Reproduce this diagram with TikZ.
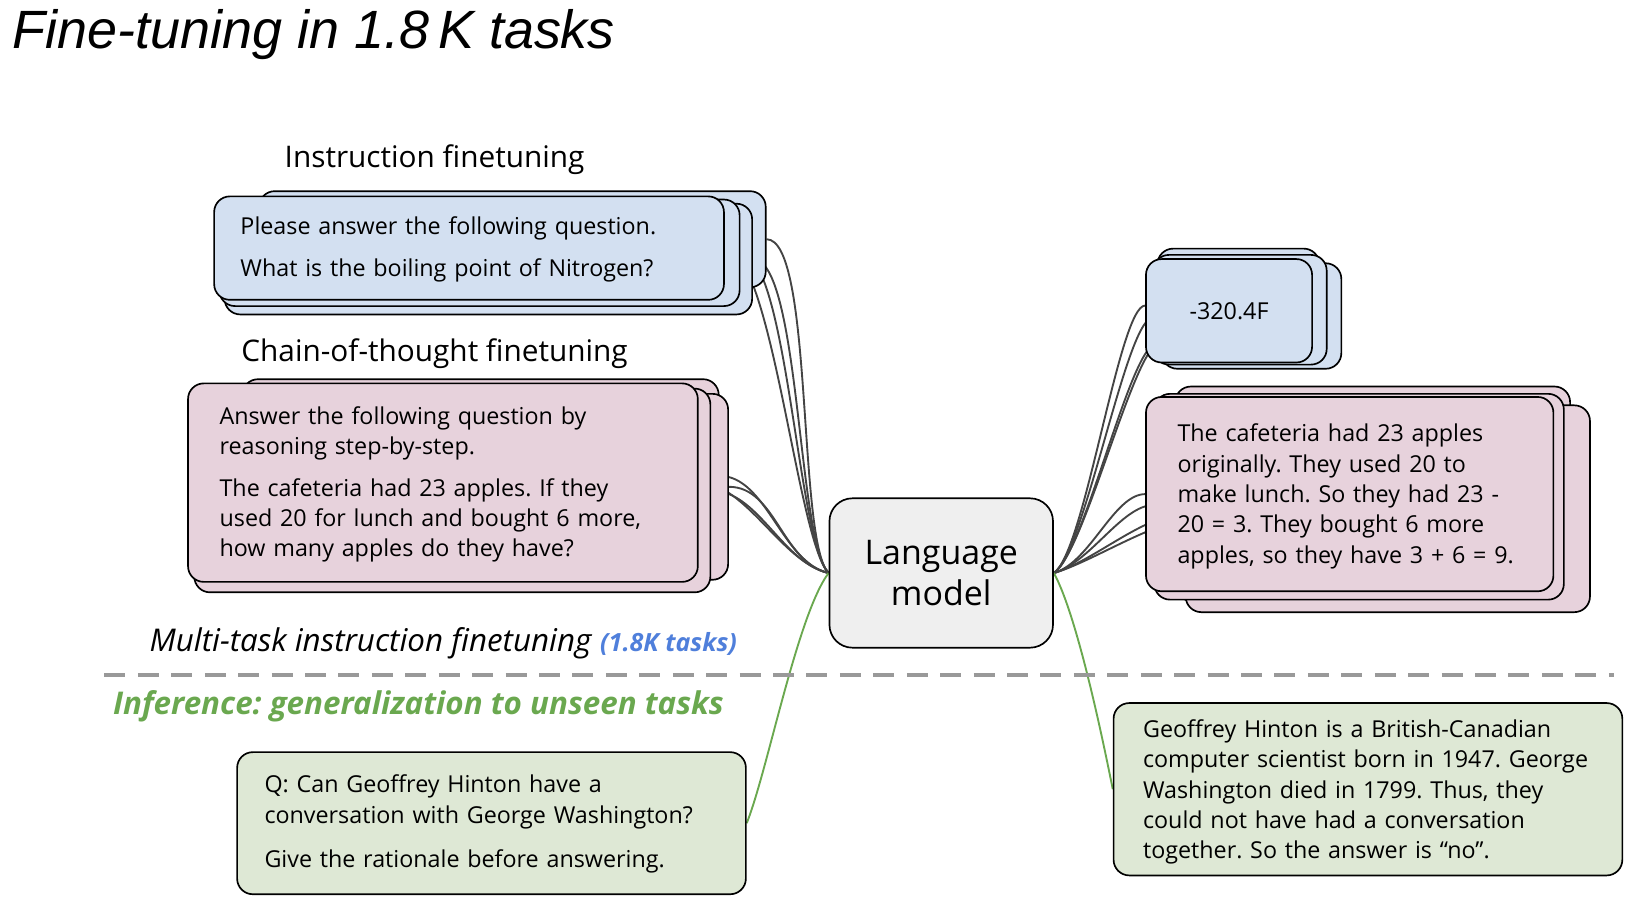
\documentclass[tikz,border=0pt]{standalone}
\usepackage{fontspec}
\setmainfont{Open Sans}
\newfontfamily\titlefont{Liberation Sans}
\usepackage{tikz}
\usetikzlibrary{calc,fit,positioning}
\pgfdeclarelayer{background}
\pgfsetlayers{background,main}
\definecolor{cardblue}{HTML}{D3E0F1}
\definecolor{cardpink}{HTML}{E7D2DC}
\definecolor{cardgreen}{HTML}{DEE8D5}
\definecolor{lmgray}{HTML}{EFEFEF}
\definecolor{wiregray}{HTML}{444444}
\definecolor{infgreen}{HTML}{6AA84F}
\definecolor{taskblue}{HTML}{4F7FDB}
\frenchspacing
\tikzset{
   card/.style={rectangle,rounded corners=15pt,draw=black,line width=1.6pt,inner sep=0pt},
   blue card/.style={card,fill=cardblue},
   pink card/.style={card,fill=cardpink},
   green card/.style={card,fill=cardgreen},
   lm node/.style={card,fill=lmgray,rounded corners=22pt},
   card text/.style={anchor=base west,inner sep=0pt,align=left,font=\fontsize{22.3}{29}\selectfont},
   head text/.style={inner sep=0pt,font=\fontsize{28.5}{32}\selectfont},
   wire/.style={draw=wiregray,line width=1.8pt},
   green wire/.style={draw=infgreen,line width=1.8pt},
   divider/.style={draw=black!40,line width=4pt,dash pattern=on 20pt off 12pt}
}
\begin{document}
\begin{tikzpicture}[x=1pt,y=-1pt]
\useasboundingbox (0,0) rectangle (1568,873);
% headings
\node[anchor=base west,inner sep=0pt,font=\titlefont\itshape\fontsize{51.6}{60}\selectfont] (title) at (12,46) {Fine-tuning in 1.8\,K tasks};
\node[head text] (instr label) at (416,153) {Instruction finetuning};
\node[head text] (cot label) at (416,339) {Chain-of-thought finetuning};
%
% instruction stack
\node[blue card,fit={(248,183) (733,275)}] (qb3) {};
\node[blue card,fit={(215,195) (720,301)}] (qb2) {};
\node[blue card,fit={(210,191) (708,293)}] (qb1) {};
\node[blue card,fit={(205,188) (693,287)}] (q0) {};
\node[card text,text width=450pt] (q text) at (230,224)
  {Please answer the following question.\\[12pt]What is the boiling point of Nitrogen?};
%
% chain-of-thought stack
\node[pink card,fit={(232,363) (688,548)}] (cb3) {};
\node[pink card,fit={(190,377) (697,555)}] (cb1) {};
\node[pink card,fit={(186,372) (680,567)}] (cb2) {};
\node[pink card,fit={(180,367) (668,557)}] (c0) {};
\node[card text,text width=450pt] (c text) at (210,406)
  {Answer the following question by\\reasoning step-by-step.\\[11pt]The cafeteria had 23 apples. If they\\used 20 for lunch and bought 6 more,\\how many apples do they have?};
%
% model
\node[lm node,fit={(794,477) (1008,620)}] (lm) {};
\node[inner sep=0pt,align=center,font=\fontsize{32.5}{39}\selectfont] (lm text) at (lm) {Language\\model};
%
% answers
\node[blue card,fit={(1108,238) (1263,340)}] (ab3) {};
\node[blue card,fit={(1112,252) (1284,353)}] (ab2) {};
\node[blue card,fit={(1104,244) (1270,349)}] (ab1) {};
\node[blue card,fit={(1097,248) (1256,347)}] (a0) {};
\node[inner sep=0pt,font=\fontsize{22.3}{29}\selectfont] (a text) at (a0) {-320.4F};
\node[pink card,fit={(1125,370) (1503,575)}] (rb3) {};
\node[pink card,fit={(1135,388) (1522,586)}] (rb2) {};
\node[pink card,fit={(1105,377) (1497,574)}] (rb1) {};
\node[pink card,fit={(1097,380) (1487,566)}] (r0) {};
\node[card text,text width=360pt] (r text) at (1127,423)
  {The cafeteria had 23 apples\\originally. They used 20 to\\make lunch. So they had 23 -\\20 = 3. They bought 6 more\\apples, so they have 3 + 6 = 9.};
%
% split
\node[anchor=base west,inner sep=0pt,font=\fontsize{30}{34}\selectfont\itshape] (mt label) at (143,624) {Multi-task instruction finetuning};
\node[right=8pt of mt label.base east,anchor=base west,inner sep=0pt,text=taskblue,font=\fontsize{24}{28}\selectfont\bfseries\itshape] (mt count) {(1.8K tasks)};
\coordinate (div l) at (100,646);
\coordinate (div r) at (1545,646);
\draw[divider] (div l) -- (div r);
\node[anchor=base west,inner sep=0pt,text=infgreen,font=\fontsize{30}{34}\selectfont\bfseries\itshape] (inf label) at (108,684) {Inference: generalization to unseen tasks};
%
% inference
\node[green card,fit={(227,720) (714,856)}] (g0) {};
\node[card text,text width=450pt] (g text) at (253,759)
  {Q: Can Geoffrey Hinton have a\\conversation with George Washington?\\[13pt]Give the rationale before answering.};
\node[green card,fit={(1066,673) (1553,838)}] (h0) {};
\node[card text,text width=450pt] (h text) at (1094,706)
  {Geoffrey Hinton is a British-Canadian\\computer scientist born in 1947. George\\Washington died in 1799. Thus, they\\could not have had a conversation\\together. So the answer is ``no''.};
%
\begin{pgfonlayer}{background}
\foreach \src in {q0,qb1,qb2,qb3}
  \draw[wire] (\src.east) .. controls +(45,0) and +(-30,-30) .. (lm.west);
\foreach \src in {c0,cb1,cb2,cb3}
  \draw[wire] (\src.east) .. controls +(45,0) and +(-45,-10) .. (lm.west);
\foreach \dst/\dy in {a0/-5,ab1/8,ab2/25,ab3/40}
  \draw[wire] (lm.east) .. controls +(30,-20) and +(-25,0) .. ($(\dst.west)+(0,\dy)$);
\foreach \dst/\dy in {r0/0,rb1/8,rb2/12,rb3/22}
  \draw[wire] (lm.east) .. controls +(35,-10) and +(-30,0) .. ($(\dst.west)+(0,\dy)$);
\draw[green wire] (lm.west) .. controls +(-30,40) and +(20,-50) .. (g0.east);
\draw[green wire] (lm.east) .. controls +(22,40) and +(-10,-50) .. (h0.west);
\end{pgfonlayer}
\end{tikzpicture}
\end{document}
